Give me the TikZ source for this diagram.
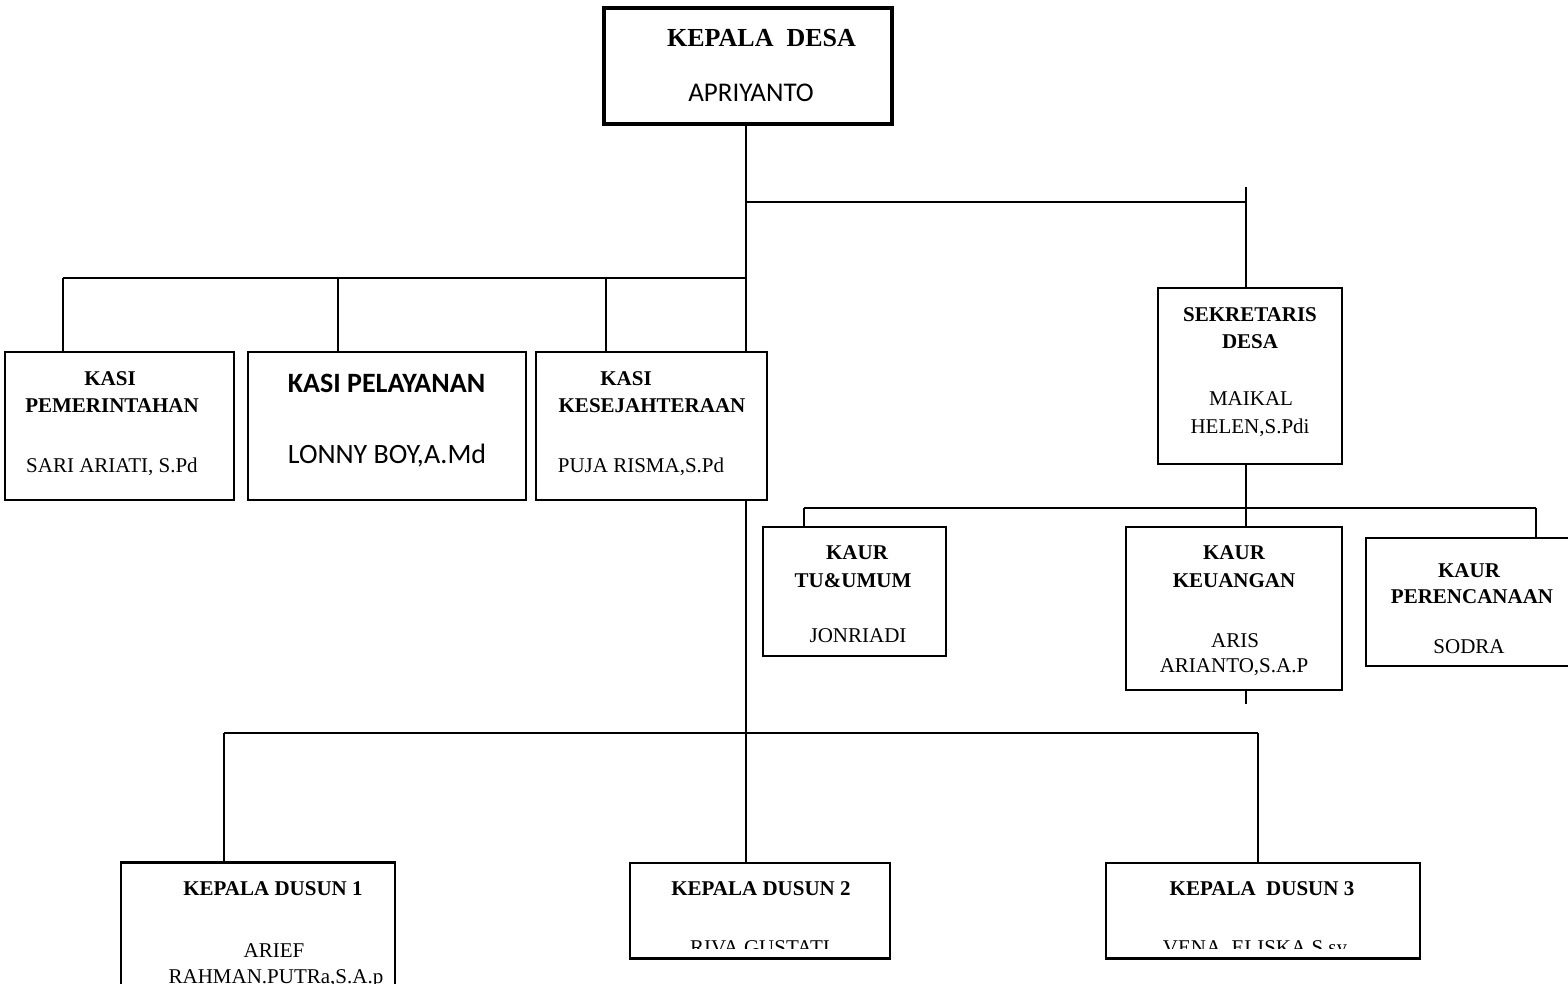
\documentclass[tikz,border=0pt]{standalone}
\usepackage{fontspec}
\setmainfont{Liberation Serif}
\newfontfamily\calib{Carlito}
\usetikzlibrary{fit}
\begin{document}
\begin{tikzpicture}[x=1pt,y=-1pt,
  bx/.style={draw,line width=1.8pt,inner sep=0pt},
  ln/.style={line width=1.8pt},
  tx/.style={anchor=base,inner sep=0pt,font=\fontsize{21}{21}\selectfont},
  hd/.style={anchor=base,inner sep=0pt,font=\bfseries\fontsize{21}{21}\selectfont}]
\clip (0,0) rectangle (1568,984);
\fill[white] (0,0) rectangle (1568,984);
% boxes
\node[bx,line width=4.5pt,fit={(604,8) (892,124)}] (kd) {};
\node[bx,fit={(5,352) (234,500)}] (kpem) {};
\node[bx,fit={(248,352) (526,500)}] (kpel) {};
\node[bx,line width=2.5pt,fit={(536,352) (767,500)}] (kkes) {};
\node[bx,fit={(1158,288) (1342,464)}] (sek) {};
\node[bx,fit={(763,527) (946,656)}] (tu) {};
\node[bx,fit={(1126,527) (1342,690)}] (keu) {};
\node[bx,fit={(1366,538) (1580,666)}] (per) {};
\node[bx,fit={(121,863) (395,995)}] (d1) {};
\node[bx,fit={(630,863) (890,958)}] (d2) {};
\node[bx,fit={(1106,863) (1420,958)}] (d3) {};
\draw[line width=3pt] (d1.north west) -- (d1.north east);
\draw[line width=3pt] (d2.south west) -- (d2.south east);
\draw[line width=3pt] (d3.south west) -- (d3.south east);
% junctions
\coordinate (m) at (746,0);
\coordinate (r1) at (746,202);
\coordinate (r1e) at (1246,202);
\coordinate (r1t) at (1246,187);
\coordinate (r2) at (746,278);
\coordinate (r2a) at (63,278);
\coordinate (r2b) at (338,278);
\coordinate (r2c) at (606,278);
\coordinate (r3) at (746,733);
\coordinate (r3a) at (224,733);
\coordinate (r3c) at (1258,733);
\coordinate (k0) at (1246,508);
\coordinate (ka) at (804,508);
\coordinate (kc) at (1536,508);
\coordinate (kend) at (1246,704);
% connectors
\draw[ln] (kd.south -| m) -- (kkes.north -| m);
\draw[ln] (r1) -- (r1e);
\draw[ln] (r1t) -- (sek.north -| r1t);
\draw[ln] (r2a) -- (r2);
\draw[ln] (r2a) -- (kpem.north -| r2a);
\draw[ln] (r2b) -- (kpel.north -| r2b);
\draw[ln] (r2c) -- (kkes.north -| r2c);
\draw[ln] (kkes.south -| m) -- (d2.north -| m);
\draw[ln] (r3a) -- (r3c);
\draw[ln] (r3a) -- (d1.north -| r3a);
\draw[ln] (r3c) -- (d3.north -| r3c);
\draw[ln] (sek.south -| k0) -- (keu.north -| k0);
\draw[ln] (ka) -- (kc);
\draw[ln] (ka) -- (tu.north -| ka);
\draw[ln] (kc) -- (per.north -| kc);
\draw[ln] (keu.south -| kend) -- (kend);
% texts
\node[hd,font=\bfseries\fontsize{26}{26}\selectfont] (t1) at (761.5,47) {KEPALA\ \ DESA};
\node[tx,font=\calib\fontsize{27}{27}\selectfont] (t2) at (751,102) {APRIYANTO};
\node[hd] (t3) at (110,385) {KASI};
\node[hd] (t4) at (112,412) {PEMERINTAHAN};
\node[tx] (t5) at (112,472) {SARI ARIATI, S.Pd};
\node[tx,font=\calib\bfseries\fontsize{28}{28}\selectfont] (t6) at (386.5,392) {KASI PELAYANAN};
\node[tx,font=\calib\fontsize{28}{28}\selectfont] (t7) at (387,463) {LONNY BOY,A.Md};
\node[hd] (t8) at (626,385) {KASI};
\node[hd] (t9) at (652,412) {KESEJAHTERAAN};
\node[tx] (t10) at (641,472) {PUJA RISMA,S.Pd};
\node[hd] (t11) at (1250,321) {SEKRETARIS};
\node[hd] (t12) at (1250,348) {DESA};
\node[tx] (t13) at (1251,405) {MAIKAL};
\node[tx] (t14) at (1250,433) {HELEN,S.Pdi};
\node[hd] (t15) at (857,559) {KAUR};
\node[hd] (t16) at (853,587) {TU\&UMUM};
\node[tx] (t17) at (858,642) {JONRIADI};
\node[hd] (t18) at (1234,559) {KAUR};
\node[hd] (t19) at (1234,587) {KEUANGAN};
\node[tx] (t20) at (1235,647) {ARIS};
\node[tx] (t21) at (1234,672) {ARIANTO,S.A.P};
\node[hd] (t22) at (1469,577) {KAUR};
\node[hd] (t23) at (1472,603) {PERENCANAAN};
\node[tx] (t24) at (1469,653) {SODRA};
\node[hd] (t25) at (273,895) {KEPALA DUSUN 1};
\node[tx] (t26) at (274,957) {ARIEF};
\node[tx] (t27) at (276,983) {RAHMAN.PUTRa,S.A.p};
\node[hd] (t28) at (761,895) {KEPALA DUSUN 2};
\node[hd] (t30) at (1262,895) {KEPALA\ \ DUSUN 3};
\begin{scope}
\clip (630,863) rectangle (1420,948);
\node[tx] (t29) at (760,954) {RIVA GUSTATI};
\node[tx] (t31) at (1255,954) {VENA\ \ ELISKA,S.sy};
\end{scope}
\end{tikzpicture}
\end{document}
